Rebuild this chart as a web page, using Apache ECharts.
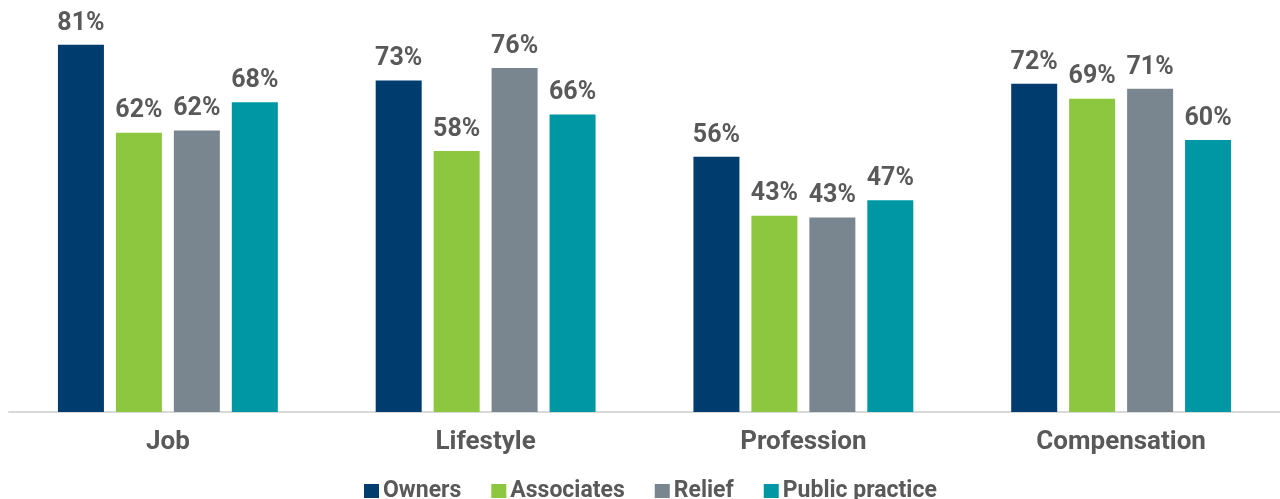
<!DOCTYPE html>
<html>
<head>
<meta charset="utf-8">
<script src="https://cdn.jsdelivr.net/npm/echarts@6/dist/echarts.min.js"></script>
<style>
html,body{margin:0;padding:0;background:#fff;}
#chart{width:1280px;height:499px;}
</style>
</head>
<body>
<div id="chart"></div>
<script>
const categories = ['Job', 'Lifestyle', 'Profession', 'Compensation'];
const seriesNames = ['Owners', 'Associates', 'Relief', 'Public practice'];
const owners = [81, 73.1, 56.3, 72.4];
const associates = [61.6, 57.6, 43.3, 69.1];
const relief = [62.1, 75.9, 42.9, 71.3];
const publicPractice = [68.3, 65.6, 46.7, 60.0];
const colors = ['#003d6e', '#8dc63f', '#7a868f', '#0097a4'];

const values = [owners, associates, relief, publicPractice];
const textColor = '#595959';
const font = 'Roboto, "Open Sans", sans-serif';

const chart = echarts.init(document.getElementById('chart'));
chart.setOption({
  animation: false,
  legend: {
    top: 479,
    left: 364,
    padding: 0,
    itemWidth: 15,
    itemHeight: 14,
    itemGap: 30,
    icon: 'rect',
    textStyle: { color: textColor, fontSize: 23, fontWeight: 'bold', fontFamily: font, lineHeight: 24, padding: [0, 0, 0, -1] },
    data: seriesNames
  },
  grid: { left: 9, width: 1276, top: 4, bottom: 87 },
  xAxis: {
    type: 'category',
    data: categories,
    axisLine: { lineStyle: { color: '#d9d9d9', width: 2 } },
    axisTick: { show: false },
    axisLabel: { color: textColor, fontSize: 26, fontWeight: 'bold', fontFamily: font, margin: 17 }
  },
  yAxis: {
    type: 'value', min: 0, max: 90, show: false,
    splitLine: { show: false }
  },
  series: values.map((v, i) => ({
    name: seriesNames[i],
    type: 'bar',
    data: v,
    barWidth: 46,
    barGap: '26%',
    itemStyle: { color: colors[i] },
    label: {
      show: true, position: 'top', distance: 9,
      color: textColor, fontSize: 25, fontWeight: 'bold', fontFamily: font,
      formatter: p => Math.round(p.value) + '%'
    }
  }))
});
</script>
</body>
</html>
